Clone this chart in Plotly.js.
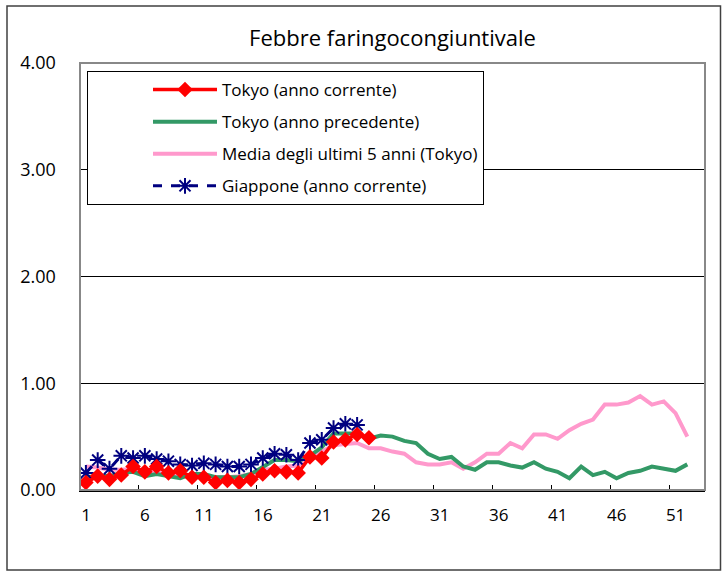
<!DOCTYPE html>
<html>
<head>
<meta charset="utf-8">
<script src="https://cdn.plot.ly/plotly-3.0.1.min.js"></script>
<style>
  html, body { margin: 0; padding: 0; background: #ffffff; }
  #chart { width: 722px; height: 571px; }
</style>
</head>
<body>
<div id="chart"></div>
<script>
// Weeks (x categories)
const weeks = Array.from({length: 52}, (_, i) => i + 1);
const tickLabels = ['1','6','11','16','21','26','31','36','41','46','51'];

// Tokyo (anno corrente) – weeks 1..25
const tokyoCurrent = [0.07, 0.13, 0.10, 0.14, 0.22, 0.17, 0.22, 0.16, 0.18, 0.12,
                      0.12, 0.07, 0.09, 0.07, 0.10, 0.15, 0.18, 0.17, 0.16, 0.31,
                      0.30, 0.45, 0.47, 0.52, 0.49];

// Tokyo (anno precedente) – weeks 1..52
const tokyoPrev = [0.12, 0.13, 0.13, 0.16, 0.17, 0.13, 0.15, 0.13, 0.11, 0.15,
                   0.15, 0.12, 0.12, 0.12, 0.15, 0.21, 0.28, 0.28, 0.27, 0.32,
                   0.40, 0.53, 0.53, 0.53, 0.48, 0.51, 0.50, 0.46, 0.44, 0.34,
                   0.29, 0.31, 0.22, 0.19, 0.26, 0.26, 0.23, 0.21, 0.26, 0.20,
                   0.17, 0.11, 0.22, 0.14, 0.17, 0.11, 0.16, 0.18, 0.22, 0.20,
                   0.18, 0.24];

// Media degli ultimi 5 anni (Tokyo) – weeks 1..52
const tokyoAvg5 = [0.22, 0.21, 0.19, 0.19, 0.20, 0.17, 0.17, 0.15, 0.14, 0.13,
                   0.12, 0.12, 0.12, 0.13, 0.15, 0.19, 0.20, 0.22, 0.23, 0.30,
                   0.36, 0.42, 0.43, 0.44, 0.39, 0.39, 0.36, 0.34, 0.26, 0.24,
                   0.24, 0.26, 0.20, 0.26, 0.34, 0.34, 0.44, 0.39, 0.52, 0.52,
                   0.48, 0.56, 0.62, 0.66, 0.80, 0.80, 0.82, 0.88, 0.80, 0.83,
                   0.72, 0.50];

// Giappone (anno corrente) – weeks 1..24
const japanCurrent = [0.16, 0.28, 0.20, 0.32, 0.30, 0.32, 0.29, 0.27, 0.24, 0.23,
                      0.25, 0.24, 0.22, 0.22, 0.24, 0.30, 0.34, 0.33, 0.28, 0.44,
                      0.47, 0.58, 0.62, 0.61];

const FONT = '"Open Sans", "Noto Sans", sans-serif';

const traces = [
  {
    name: 'Media degli ultimi 5 anni (Tokyo)',
    x: weeks.slice(0, tokyoAvg5.length), y: tokyoAvg5,
    mode: 'lines', type: 'scatter',
    line: {color: '#FF99CC', width: 4},
    legendrank: 3, legendgroup: 'c'
  },
  {
    name: 'Tokyo (anno precedente)',
    x: weeks.slice(0, tokyoPrev.length), y: tokyoPrev,
    mode: 'lines', type: 'scatter',
    line: {color: '#339966', width: 4},
    legendrank: 2, legendgroup: 'b'
  },
  {
    name: 'Giappone (anno corrente)',
    x: weeks.slice(0, japanCurrent.length), y: japanCurrent,
    mode: 'lines+markers', type: 'scatter',
    line: {color: '#000080', width: 3, dash: 'dash'},
    marker: {symbol: 'asterisk-open', size: 13, color: '#000080', line: {color: '#000080', width: 2}},
    legendrank: 4, legendgroup: 'd'
  },
  {
    name: 'Tokyo (anno corrente)',
    x: weeks.slice(0, tokyoCurrent.length), y: tokyoCurrent,
    mode: 'lines+markers', type: 'scatter',
    line: {color: '#FF0000', width: 3.5},
    marker: {symbol: 'diamond', size: 12, color: '#FF0000'},
    legendrank: 1, legendgroup: 'a'
  }
];

const L = 80, R = 705, T = 63, B = 490;
const pw = R - L, ph = B - T;
const px = v => (v - L) / pw;
const py = v => (B - v) / ph;

const layout = {
  width: 722, height: 571,
  margin: {l: L, r: 722 - R, t: T, b: 571 - B, pad: 0},
  paper_bgcolor: '#ffffff', plot_bgcolor: '#ffffff',
  font: {family: FONT, color: '#000000', size: 16},
  title: {
    text: 'Febbre faringocongiuntivale',
    font: {family: FONT, size: 22, color: '#000000'},
    xref: 'paper', x: 0.5, xanchor: 'center',
    yref: 'container', y: 1 - 38 / 571, yanchor: 'middle'
  },
  xaxis: {
    range: [0.5, 53.5],
    tickmode: 'array',
    tickvals: tickLabels.map(t => Number(t) - 0.5),
    ticktext: tickLabels,
    ticks: 'inside', ticklen: 5, tickwidth: 1, tickcolor: '#000000',
    ticklabelshift: 6, ticklabelstandoff: 9,
    showline: true, linecolor: '#000000', linewidth: 1.5,
    showgrid: false, zeroline: false,
    tickfont: {family: FONT, size: 17, color: '#000000'},
    fixedrange: true
  },
  yaxis: {
    range: [0, 4], dtick: 1, tick0: 0, tickformat: '.2f',
    ticks: '', ticklabelstandoff: 19,
    showline: true, linecolor: '#000000', linewidth: 1.5,
    showgrid: true, gridcolor: '#000000', gridwidth: 1,
    zeroline: false,
    tickfont: {family: FONT, size: 18, color: '#000000'},
    fixedrange: true
  },
  showlegend: true,
  legend: {
    x: px(87), y: py(71), xanchor: 'left', yanchor: 'top',
    bgcolor: '#ffffff', bordercolor: '#000000', borderwidth: 1,
    font: {family: FONT, size: 17, color: '#000000'},
    traceorder: 'grouped', tracegroupgap: 7,
    indentation: 60, itemwidth: 64,
    itemclick: false, itemdoubleclick: false
  },
  shapes: [
    {type: 'rect', xref: 'paper', yref: 'paper', x0: 0, x1: 1, y0: 0, y1: 1,
     line: {color: '#888888', width: 2}, fillcolor: 'rgba(0,0,0,0)', layer: 'above'},
    {type: 'rect', xref: 'paper', yref: 'paper',
     x0: px(7), x1: px(720.5), y0: py(570), y1: py(6),
     line: {color: '#404040', width: 1.5}, fillcolor: 'rgba(0,0,0,0)', layer: 'above'}
  ]
};

Plotly.newPlot('chart', traces, layout, {displayModeBar: false, staticPlot: true});
</script>
</body>
</html>
